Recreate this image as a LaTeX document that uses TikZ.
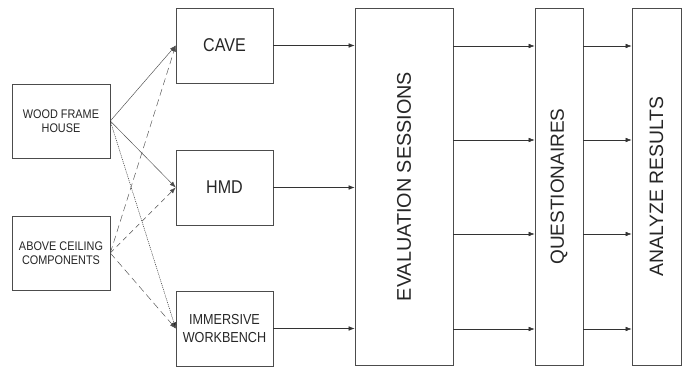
\documentclass[tikz,border=0pt]{standalone}
\usepackage{fontspec}
\setmainfont{Liberation Sans}
\newfontfamily\narrowfont[FakeStretch=0.87]{Liberation Sans}
\usepackage{tikz}
\usetikzlibrary{arrows.meta}
\tikzset{
  box/.style={draw=black!70,line width=0.6pt,inner sep=0pt,align=center,text=black!85},
  flow/.style={-{Latex[length=6pt,width=4.5pt]},draw=black!80,line width=0.55pt},
  thin flow/.style={-{Latex[length=6pt,width=4.5pt]},draw=black!70,line width=0.45pt},
}

\begin{document}
\begin{tikzpicture}[x=1pt,y=1pt]
\useasboundingbox (0,0) rectangle (687,368);

% sources
\node[box,minimum width=98pt,minimum height=74pt,font=\narrowfont\fontsize{12.5}{14}\selectfont]
  (wood) at (61,247) {WOOD FRAME\\HOUSE};
\node[box,minimum width=98pt,minimum height=74pt,font=\narrowfont\fontsize{12.5}{14}\selectfont]
  (ceiling) at (61,115) {ABOVE CEILING\\COMPONENTS};

% environments
\node[box,minimum width=97pt,minimum height=75pt,font=\narrowfont\fontsize{18.5}{20}\selectfont]
  (cave) at (224.5,322.5) {CAVE};
\node[box,minimum width=97pt,minimum height=75pt,font=\narrowfont\fontsize{18.5}{20}\selectfont]
  (hmd) at (224.5,180.5) {HMD};
\node[box,minimum width=97pt,minimum height=75pt,font=\narrowfont\fontsize{14.5}{17.5}\selectfont]
  (bench) at (224.5,39.5) {IMMERSIVE\\WORKBENCH};

% tall columns
\node[box,rotate=90,minimum width=357pt,minimum height=98pt,font=\fontsize{19.8}{21}\selectfont]
  (eval) at (404,181.5) {EVALUATION SESSIONS};
\node[box,rotate=90,minimum width=357pt,minimum height=48pt,font=\fontsize{19}{21}\selectfont]
  (quest) at (559,181.5) {QUESTIONAIRES};
\node[box,rotate=90,minimum width=357pt,minimum height=49pt,font=\fontsize{19.4}{21}\selectfont]
  (result) at (656.5,181.5) {ANALYZE RESULTS};

% model -> environment
\draw[thin flow] (wood.east) -- (cave.west);
\draw[thin flow] (wood.east) -- (hmd.west);
\draw[thin flow,draw=black!85,line width=0.5pt,dash pattern=on 1pt off 1pt] (wood.east) -- (bench.west);
\draw[thin flow,dash pattern=on 7pt off 4pt] (ceiling.east) -- (cave.west);
\draw[thin flow,dash pattern=on 5pt off 4pt] (ceiling.east) -- (hmd.west);
\draw[thin flow,dash pattern=on 7pt off 4pt] (ceiling.east) -- (bench.west);

% environment -> sessions
\foreach \env in {cave,hmd,bench}
  \draw[flow] (\env.east) -- (\env.east -| eval.north);

% sessions -> questionaires -> results
\foreach \y in {322,228,134,39}{
  \draw[flow] (eval.south |- 0,\y) -- (quest.north |- 0,\y);
  \draw[flow] (quest.south |- 0,\y) -- (result.north |- 0,\y);
}
\end{tikzpicture}
\end{document}
